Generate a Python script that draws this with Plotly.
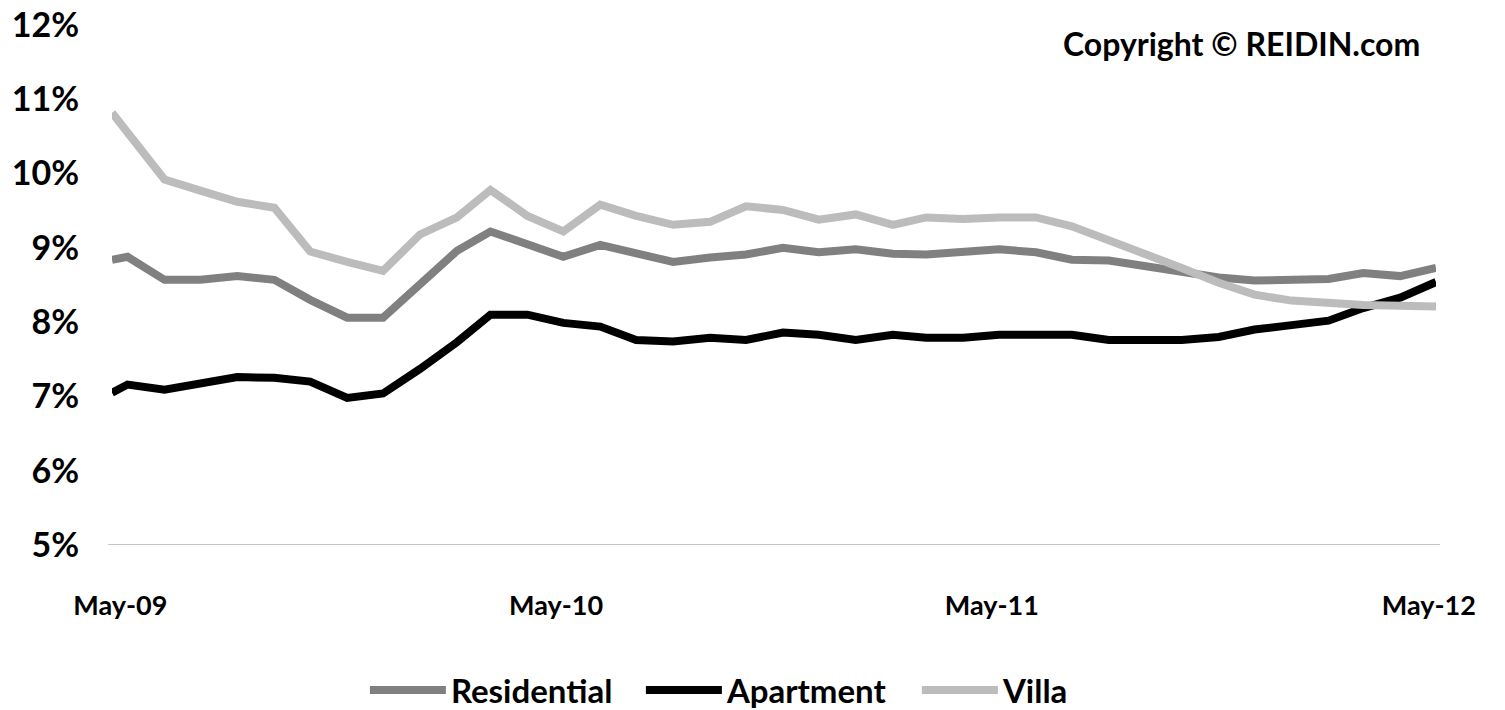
import plotly.graph_objects as go

# x positions: an initial point just before May-09, then monthly May-09 .. May-12
dates = ["2009-04-18"] + [f"{2009 + (4 + i) // 12}-{(4 + i) % 12 + 1:02d}-01" for i in range(37)]

residential = [8.84, 8.88, 8.57, 8.57, 8.62, 8.57, 8.30, 8.06, 8.06, 8.50, 8.96, 9.22, 9.06, 8.88,
               9.04, 8.94, 8.81, 8.87, 8.91, 9.00, 8.94, 8.98, 8.92, 8.91, 8.94, 8.98, 8.94, 8.84,
               8.83, 8.76, 8.68, 8.60, 8.56, 8.56, 8.58, 8.66, 8.62, 8.73]
apartment = [7.05, 7.16, 7.09, 7.17, 7.26, 7.25, 7.20, 6.98, 7.04, 7.37, 7.73, 8.10, 8.10, 7.99,
             7.94, 7.76, 7.74, 7.79, 7.76, 7.86, 7.83, 7.76, 7.83, 7.79, 7.79, 7.83, 7.83, 7.83,
             7.76, 7.76, 7.76, 7.80, 7.90, 7.96, 8.02, 8.19, 8.33, 8.54]
villa = [10.82, 10.55, 9.92, 9.77, 9.62, 9.54, 8.95, 8.81, 8.69, 9.18, 9.41, 9.78, 9.43, 9.22,
         9.58, 9.43, 9.31, 9.35, 9.56, 9.51, 9.38, 9.45, 9.31, 9.41, 9.39, 9.41, 9.41, 9.29,
         9.11, 8.92, 8.73, 8.53, 8.37, 8.29, 8.25, 8.23, 8.22, 8.21]

x_tick_vals = ["2009-04-25", "2010-04-25", "2011-04-25", "2012-04-25"]
x_tick_text = ["May-09", "May-10", "May-11", "May-12"]
y_tick_vals = [5, 6, 7, 8, 9, 10, 11, 12]
y_tick_text = ["5%", "6%", "7%", "8%", "9%", "10%", "11%", "12%"]

FONT = "Lato"

fig = go.Figure()
series = [("Residential", residential, "#808080"),
          ("Apartment", apartment, "#000000"),
          ("Villa", villa, "#bcbcbc")]
for name, vals, col in series:
    fig.add_trace(go.Scatter(x=dates, y=vals, name=name, mode="lines",
                             line=dict(color=col, width=8)))

fig.update_layout(
    width=1505, height=710,
    margin=dict(l=112, r=69, t=25, b=165, autoexpand=False),
    paper_bgcolor="white", plot_bgcolor="white",
    font=dict(family=FONT, size=26, color="#000000", weight="bold"),
    showlegend=True,
    legend=dict(orientation="h", x=0.191, xanchor="left", y=-0.279, yanchor="middle",
                font=dict(family=FONT, size=33, color="#000000", weight="bold"),
                itemwidth=76, entrywidth=185, traceorder="normal", bgcolor="rgba(0,0,0,0)"),
    xaxis=dict(type="date", range=[dates[0], dates[-1]],
               tickvals=x_tick_vals, ticktext=x_tick_text,
               showgrid=False, zeroline=False, showline=False, ticks="",
               ticklabelstandoff=42,
               tickfont=dict(family=FONT, size=27, color="#000000", weight="bold")),
    yaxis=dict(range=[5, 12], tickvals=y_tick_vals, ticktext=y_tick_text,
               showgrid=False, zeroline=False, showline=False, ticks="",
               ticklabelstandoff=32,
               tickfont=dict(family=FONT, size=34, color="#000000", weight="bold")),
    shapes=[dict(type="line", xref="paper", yref="y", x0=-0.003, x1=1.003, y0=5, y1=5,
                 line=dict(color="#8c8c8c", width=1.2), layer="below")],
    annotations=[dict(text="Copyright © REIDIN.com", xref="paper", yref="paper",
                      x=0.853, y=0.965, xanchor="center", yanchor="middle", showarrow=False,
                      font=dict(family=FONT, size=32, color="#000000", weight="bold"))],
)

fig.write_html("out.html")
